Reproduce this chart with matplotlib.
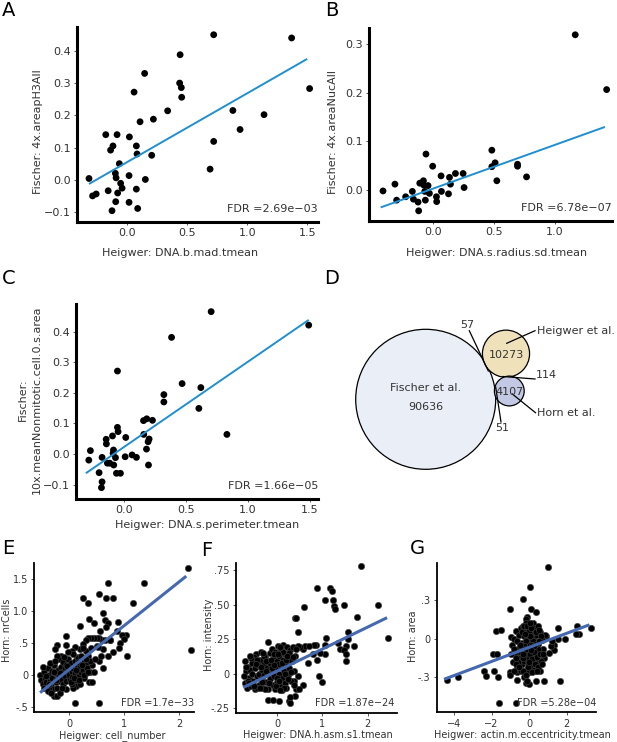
import numpy as np
import matplotlib
matplotlib.use("Agg")
import matplotlib.pyplot as plt
from matplotlib.patches import Circle

# ---------------------------------------------------------------------------
# Data
# ---------------------------------------------------------------------------

# A: Heigwer DNA.b.mad.tmean vs Fischer 4x.areapH3All
a_x = [-0.32, -0.29, -0.26, -0.18, -0.16, -0.14, -0.12, -0.086, -0.067, -0.10,
       -0.094, -0.056, -0.044, -0.081, -0.097, -0.128, 0.017, 0.056, 0.014, 0.014,
       0.075, 0.086, 0.075, 0.081, 0.106, 0.144, 0.15, 0.203, 0.217, 0.336,
       0.436, 0.45, 0.44, 0.453, 0.72, 0.72, 0.69, 0.88, 0.94, 1.14, 1.37, 1.52]
a_y = [0.004, -0.05, -0.044, 0.14, -0.034, 0.092, 0.105, 0.14, 0.05, 0.02,
       0.006, -0.011, -0.026, -0.041, -0.068, -0.096, 0.133, 0.272, 0.013, -0.07,
       -0.029, -0.089, 0.105, 0.08, 0.18, 0.33, 0.001, 0.076, 0.188, 0.214,
       0.30, 0.286, 0.388, 0.256, 0.45, 0.119, 0.033, 0.215, 0.156, 0.202, 0.44, 0.283]
a_fit_x = [-0.32, 1.50]
a_fit_y = [-0.013, 0.375]

# B: Heigwer DNA.s.radius.sd.tmean vs Fischer 4x.areaNucAll
b_x = [-0.411, -0.313, -0.299, -0.225, -0.17, -0.161, -0.123, -0.118, -0.109, -0.079,
       -0.076, -0.068, -0.063, -0.058, -0.041, -0.03, -0.003, 0.028, 0.03, 0.066,
       0.069, 0.127, 0.135, 0.143, 0.184, 0.247, 0.255, 0.483, 0.483, 0.51,
       0.524, 0.694, 0.694, 0.768, 1.168, 1.426]
b_y = [-0.002, 0.012, -0.021, -0.014, -0.003, -0.019, -0.025, -0.043, 0.014, 0.019,
       0.010, -0.003, -0.021, 0.074, 0.009, -0.007, 0.049, -0.014, -0.024, 0.029,
       -0.003, -0.008, 0.026, 0.012, 0.034, 0.034, 0.005, 0.082, 0.048, 0.056,
       0.019, 0.053, 0.049, 0.027, 0.320, 0.207]
b_fit_x = [-0.43, 1.412]
b_fit_y = [-0.036, 0.130]

# C: Heigwer DNA.s.perimeter.tmean vs Fischer 10x.meanNonmitotic.cell.0.s.area
c_x = [-0.051, 0.704, 0.385, 1.49, 0.47, 0.621, 0.323, 0.323, 0.605, 0.831,
       0.159, 0.185, 0.231, 0.161, 0.204, 0.196, 0.183, 0.199, -0.051, -0.046,
       -0.091, -0.142, -0.14, 0.016, -0.269, -0.282, -0.083, -0.086, -0.175, -0.067,
       -0.132, -0.113, -0.081, 0.011, 0.067, 0.102, -0.199, -0.059, -0.027, -0.175, -0.18]
c_y = [0.271, 0.465, 0.381, 0.421, 0.23, 0.217, 0.194, 0.17, 0.149, 0.064,
       0.109, 0.115, 0.110, 0.064, 0.049, 0.040, 0.016, -0.036, 0.087, 0.073,
       0.059, 0.048, 0.033, 0.054, 0.011, -0.020, 0.013, 0.002, -0.011, -0.012,
       -0.030, -0.030, -0.036, -0.009, -0.003, -0.011, -0.061, -0.063, -0.063, -0.091, -0.110]
c_fit_x = [-0.306, 1.49]
c_fit_y = [-0.063, 0.438]

# D: overlap of hit sets
venn_names = ["Fischer et al.", "Heigwer et al.", "Horn et al."]
venn_counts = [90636, 10273, 4107]
overlap_fh, overlap_hh, overlap_fho = 57, 114, 51

# E: Heigwer cell_number vs Horn nrCells
e_x = [2.16, 1.365, 0.70, 0.55, 0.67, 0.80, 0.25, 0.34, 1.165, 0.61, 0.37, 0.66, 0.46, 0.70,
       0.89, 0.20, 0.67, 2.21,
       0.56, 0.875, 1.03, 0.96, 1.0, 0.92, 0.90, 1.06, 0.80, 0.74, 0.65, 0.60, 0.55, 0.50,
       0.45, 0.40, 0.35, 0.30, 0.25, 0.20, 0.10, -0.06, -0.05, -0.22, -0.26, -0.14, 0.05,
       0.30, 0.40, 0.50, 0.62, 0.70, 0.55, 0.35, 0.15, 0.12, 0.42, 0.62, 0.38, 0.75, 0.52,
       -0.52, -0.50, -0.48, -0.45, -0.43, -0.42, -0.40, -0.38, -0.36, -0.35, -0.33, -0.31,
       -0.30, -0.29, -0.27, -0.25, -0.24, -0.22, -0.20, -0.19, -0.18, -0.17, -0.15, -0.14,
       -0.12, -0.11, -0.10, -0.08, -0.07, -0.06, -0.05, -0.03, -0.02, 0.00, 0.01, 0.02,
       0.04, 0.05, 0.06, 0.08, 0.10, 0.11, 0.12, 0.14, 0.15, 0.17, 0.18, 0.20, 0.22, 0.24,
       0.26, 0.28, 0.30, 0.33, 0.36, 0.38, 0.12, 0.30,
       -0.28, -0.22, -0.17, -0.36, -0.46, 0.08, -0.05, 0.05, 0.10, 0.55, 0.42, 0.20,
       -0.47, -0.41, -0.37, -0.34, -0.28, -0.23, -0.21, -0.16, -0.13, -0.09, -0.04, 0.03,
       0.07, 0.09, 0.13, 0.16, 0.19, 0.21, 0.23, 0.27, 0.31, 0.35, -0.39, -0.32, -0.26,
       -0.01, 0.25, 0.45, 0.48, 0.58]
e_y = [1.68, 1.43, 1.43, 1.26, 1.21, 1.21, 1.20, 1.12, 1.12, 0.96, 0.87, 0.86, 0.81, 0.81,
       0.83, 0.76, 0.75, 0.39,
       0.69, 0.68, 0.62, 0.62, 0.56, 0.50, 0.42, 0.30, 0.35, 0.55, 0.55, 0.55, 0.57, 0.57,
       0.57, 0.57, 0.57, 0.55, 0.48, 0.40, 0.43, 0.46, 0.60, 0.46, 0.40, 0.30, 0.38,
       0.38, 0.42, 0.45, 0.40, 0.30, 0.22, 0.30, 0.28, 0.20, 0.15, 0.10, 0.05, 0.55, 0.43,
       0.00, -0.08, -0.15, 0.05, -0.05, -0.12, -0.20, 0.10, 0.00, -0.10, -0.18, 0.06,
       -0.05, -0.22, 0.15, 0.02, -0.12, -0.20, 0.08, -0.02, 0.25, -0.10, 0.12, -0.06,
       0.04, -0.15, 0.20, 0.10, -0.02, 0.16, -0.10, 0.06, 0.24, 0.00, 0.12, -0.08,
       0.18, 0.05, -0.03, 0.10, 0.22, 0.02, -0.10, 0.14, 0.06, 0.26, -0.02, 0.12, 0.04, 0.20,
       0.08, -0.05, 0.16, 0.10, -0.12, 0.22, -0.18, 0.02,
       -0.33, -0.33, -0.28, -0.22, -0.20, -0.20, -0.22, -0.15, -0.45, -0.45, -0.12, -0.15,
       0.12, -0.02, -0.14, 0.18, 0.05, -0.08, 0.30, 0.02, -0.20, 0.28, 0.14, -0.12,
       0.32, -0.05, 0.08, 0.20, -0.08, 0.30, 0.15, 0.00, 0.25, 0.05, -0.26, -0.28, 0.22,
       0.35, 0.42, 0.05, 0.25, 0.30]
e_fit_x = [-0.525, 2.13]
e_fit_y = [-0.28, 1.545]

# F: Heigwer DNA.h.asm.s1.tmean vs Horn intensity
f_x = [1.85, 0.87, 1.17, 1.22, 1.05, 1.23, 1.25, 1.27, 1.48, 2.24, 0.60, 0.39, 0.41, 1.76,
       0.45, 2.46, 1.56, 1.56, 1.07, 1.05, 1.35, 1.40, 1.70, 1.53, 1.48, 1.53, 1.53, 1.05,
       0.85, 0.81, 0.87, 0.92, 1.00, 0.58, 0.62, 0.70, 0.50, 0.45, 0.58, 0.42, 0.48, 0.39,
       0.27, 0.28, 0.28, -0.20, -0.10, 0.04, -0.20, 0.80, 0.95, 0.68, 0.38, 0.46,
       -0.72, -0.70, -0.68, -0.66, -0.64, -0.62, -0.60, -0.58, -0.56, -0.55, -0.53, -0.50,
       -0.48, -0.47, -0.45, -0.43, -0.41, -0.40, -0.38, -0.36, -0.34, -0.32, -0.30, -0.28,
       -0.26, -0.25, -0.23, -0.21, -0.20, -0.18, -0.16, -0.15, -0.13, -0.12, -0.10, -0.09,
       -0.07, -0.06, -0.04, -0.03, -0.01, 0.00, 0.02, 0.03, 0.05, 0.06, 0.08, 0.09, 0.11,
       0.12, 0.14, 0.15, 0.17, 0.18, 0.20, 0.22, 0.23, 0.25, 0.27, 0.29, 0.31, 0.33, 0.35,
       0.37, 0.40, 0.42, -0.35, -0.52, -0.64, -0.44, -0.27, -0.05, 0.10, 0.20, -0.15, 0.05,
       -0.25, 0.18, -0.08, 0.28, -0.45, -0.33, 0.00, 0.13,
       -0.74, -0.69, -0.63, -0.57, -0.51, -0.46, -0.39, -0.35, -0.29, -0.24, -0.19, -0.14,
       -0.11, -0.06, -0.02, 0.01, 0.04, 0.07, 0.10, 0.16, 0.19, 0.24, 0.26, 0.30, 0.34,
       0.38, -0.60, -0.31, 0.07, 0.21]
f_y = [0.78, 0.62, 0.62, 0.60, 0.53, 0.53, 0.49, 0.47, 0.50, 0.50, 0.48, 0.40, 0.40, 0.41,
       0.30, 0.26, 0.30, 0.25, 0.26, 0.21, 0.22, 0.18, 0.20, 0.20, 0.17, 0.14, 0.09, 0.14,
       0.21, 0.21, 0.10, -0.02, -0.06, 0.18, 0.20, 0.20, 0.19, 0.20, -0.08, -0.11, -0.11, -0.16,
       -0.20, -0.17, -0.21, -0.19, -0.19, -0.20, 0.23, 0.14, 0.15, 0.08, -0.05, -0.02,
       0.09, -0.07, 0.02, -0.10, 0.05, -0.03, 0.03, -0.09, 0.00, 0.08, -0.05, 0.04,
       -0.11, 0.14, -0.02, 0.06, -0.08, 0.00, 0.10, -0.04, 0.03, -0.10, 0.07, -0.01,
       0.12, -0.06, 0.04, 0.09, -0.11, 0.00, 0.15, -0.04, 0.06, 0.18, -0.08, 0.02,
       0.11, -0.02, 0.16, 0.05, -0.06, 0.09, 0.20, 0.00, 0.13, -0.09, 0.05, 0.17, -0.03,
       0.10, 0.21, 0.02, -0.07, 0.14, 0.06, 0.19, -0.01, 0.11, 0.04, 0.17, -0.05, 0.09, 0.19,
       0.02, 0.13, 0.18, 0.16, 0.12, -0.05, -0.10, -0.11, -0.11, -0.12, -0.10, 0.08, 0.07,
       0.02, 0.00, 0.14, 0.10, 0.10, -0.06, -0.03, 0.16,
       -0.02, 0.05, -0.07, 0.11, -0.09, 0.07, -0.10, 0.05, 0.13, 0.09, -0.07, 0.10,
       0.04, 0.06, -0.09, 0.14, -0.05, 0.19, 0.08, -0.10, 0.10, -0.04, 0.15, 0.01, 0.12,
       -0.08, 0.13, 0.15, -0.12, 0.13]
f_fit_x = [-0.75, 2.43]
f_fit_y = [-0.10, 0.405]

# G: Heigwer actin.m.eccentricity.tmean vs Horn area
g_x = [1.01, 0.06, -0.33, 0.11, 0.38, -1.03, -0.10, -0.19, -1.74, -1.51, 1.52, 2.55, 2.67,
       2.49, 3.29, 1.91, 1.55, 1.35, 1.35, 1.15, 1.06, -0.98, -1.92, -1.72, -2.42, -2.30,
       -1.89, -1.68, -4.38, -3.77, -1.03, -1.03, -0.66, -0.66, -0.25, -0.15, 0.0, -0.10,
       0.38, 0.79, 1.63, -1.60, -0.71, 0.30, 0.50, -0.50, 0.80, 1.20, 0.90,
       -0.90, -0.85, -0.80, -0.75, -0.70, -0.65, -0.60, -0.55, -0.50, -0.45, -0.40, -0.38,
       -0.35, -0.30, -0.28, -0.25, -0.22, -0.20, -0.18, -0.15, -0.12, -0.10, -0.08, -0.05,
       -0.02, 0.0, 0.02, 0.05, 0.08, 0.10, 0.12, 0.15, 0.18, 0.20, 0.22, 0.25, 0.28, 0.30,
       0.33, 0.36, 0.40, 0.43, 0.46, 0.50, 0.55, 0.60, 0.65, 0.70, 0.75, 0.85, -0.60, -0.45,
       -0.35, -0.15, 0.0, 0.20, 0.35, -0.25, -0.05, 0.15, 0.45, -0.70, -0.55, -0.10, 0.10,
       0.30, -0.30, 0.05, -0.20, 0.60,
       -0.95, -0.82, -0.72, -0.62, -0.52, -0.42, -0.33, -0.27, -0.17, -0.07, 0.03, 0.07,
       0.13, 0.17, 0.27, 0.32, 0.38, 0.42, 0.48, 0.52, 0.58, 0.63, 0.68, 0.72, -0.40, -0.20,
       0.00, 0.25, -0.50, 0.10, -0.80, 0.55, -0.15, 0.40, -0.35, 0.05]
g_y = [0.555, 0.405, 0.31, 0.23, 0.21, 0.23, 0.17, 0.15, 0.06, 0.07, 0.08, 0.10, 0.04,
       0.04, 0.085, -0.005, 0.0, -0.05, -0.09, -0.06, -0.11, 0.01, -0.12, -0.12, -0.25, -0.29,
       -0.25, -0.30, -0.32, -0.30, -0.26, -0.28, -0.26, -0.32, -0.30, -0.34, -0.35, -0.33,
       -0.33, -0.33, -0.33, -0.50, -0.50, -0.25, -0.22, -0.22, -0.15, -0.02, 0.02,
       -0.05, -0.18, 0.0, -0.12, 0.06, -0.22, -0.08, 0.03, -0.15, 0.08, -0.03, -0.20,
       0.10, -0.10, 0.02, -0.17, 0.07, -0.05, -0.24, 0.12, -0.12, 0.0, -0.19, 0.08,
       -0.07, -0.26, 0.04, -0.14, 0.10, -0.02, -0.21, 0.06, -0.09, 0.12, -0.16, 0.01, -0.24, 0.08,
       -0.06, -0.13, 0.03, -0.19, 0.10, -0.04, -0.11, 0.05, -0.17, -0.01, -0.08, 0.03, -0.18, -0.25,
       -0.05, -0.02, 0.06, -0.02, 0.05, 0.10, -0.15, -0.26, -0.08, -0.20, -0.10, 0.10, 0.08,
       -0.15, -0.25, -0.05, -0.12, -0.25,
       -0.12, -0.25, -0.15, -0.02, -0.22, -0.10, -0.15, -0.06, -0.08, -0.22, -0.12, 0.02,
       -0.16, -0.05, -0.10, -0.20, -0.04, -0.14, -0.22, 0.07, -0.12, 0.02, -0.20, -0.12, 0.05,
       0.04, -0.18, -0.06, -0.05, -0.09, -0.08, -0.02, -0.28, -0.25, -0.12, 0.12]
g_fit_x = [-4.54, 3.22]
g_fit_y = [-0.315, 0.108]

# ---------------------------------------------------------------------------
# Figure
# ---------------------------------------------------------------------------

W, H = 617, 742
fig = plt.figure(figsize=(W / 100, H / 100), dpi=100)
plt.rcParams["font.family"] = ["DejaVu Sans"]
TXT = "#333333"

def px_axes(left, top, right, bottom):
    return fig.add_axes([left / W, 1 - bottom / H, (right - left) / W, (bottom - top) / H])

def style(ax, spine_w, tick_fs):
    for s in ("top", "right"):
        ax.spines[s].set_visible(False)
    for s in ("left", "bottom"):
        ax.spines[s].set_linewidth(spine_w)
        ax.spines[s].set_color("black")
    ax.tick_params(length=2.5, width=0.7, color="#555555", labelsize=tick_fs,
                   labelcolor=TXT, pad=2)

def scatter_panel(ax, x, y, fx, fy, xlim, ylim, fdr, xlabel, ylabel,
                  xl_pos, yl_pos, line_col, line_w, dot_s, edge, fs, fdr_x=1.0):
    ax.scatter(x, y, s=dot_s, c="black", edgecolors=edge, linewidths=0.4, zorder=3)
    ax.plot(fx, fy, color=line_col, lw=line_w, zorder=4, solid_capstyle="butt")
    ax.set_xlim(*xlim); ax.set_ylim(*ylim)
    ax.set_xlabel(xlabel, fontsize=fs, color=TXT)
    ax.set_ylabel(ylabel, fontsize=fs, color=TXT, linespacing=1.5)
    ax.xaxis.set_label_coords(*xl_pos)
    ax.yaxis.set_label_coords(*yl_pos)
    ax.text(fdr_x, 0.065, fdr, transform=ax.transAxes, ha="right", va="center",
            fontsize=fs, color=TXT, zorder=5)

ABC_LINE = "#1f8fcf"
EFG_LINE = "#4569b0"

# --- A ---
ax = px_axes(77, 27, 318, 222)
style(ax, 2.2, 8)
scatter_panel(ax, a_x, a_y, a_fit_x, a_fit_y, (-0.42, 1.59), (-0.131, 0.474),
              "FDR =2.69e\u221203", "Heigwer: DNA.b.mad.tmean", "Fischer: 4x.areapH3All",
              (0.427, -0.133), (-0.141, 0.464), ABC_LINE, 1.4, 24, "none", 8)
ax.set_xticks([0.0, 0.5, 1.0, 1.5]); ax.set_yticks([-0.1, 0.0, 0.1, 0.2, 0.3, 0.4])
ax.xaxis.set_major_formatter("{x:.1f}"); ax.yaxis.set_major_formatter("{x:.1f}")

# --- B ---
ax = px_axes(369, 28, 612, 221)
style(ax, 2.2, 8)
scatter_panel(ax, b_x, b_y, b_fit_x, b_fit_y, (-0.526, 1.47), (-0.064, 0.334),
              "FDR =6.78e\u221207", "Heigwer: DNA.s.radius.sd.tmean", "Fischer: 4x.areaNucAll",
              (0.525, -0.14), (-0.126, 0.459), ABC_LINE, 1.4, 24, "none", 8)
ax.set_xticks([0.0, 0.5, 1.0]); ax.set_yticks([0.0, 0.1, 0.2, 0.3])
ax.xaxis.set_major_formatter("{x:.1f}"); ax.yaxis.set_major_formatter("{x:.1f}")

# --- C ---
ax = px_axes(76, 304, 318, 499)
style(ax, 2.2, 8)
scatter_panel(ax, c_x, c_y, c_fit_x, c_fit_y, (-0.385, 1.565), (-0.147, 0.49),
              "FDR =1.66e\u221205", "Heigwer: DNA.s.perimeter.tmean",
              "Fischer:\n10x.meanNonmitotic.cell.0.s.area",
              (0.541, -0.108), (-0.14, 0.51), ABC_LINE, 1.4, 24, "none", 8)
ax.set_xticks([0.0, 0.5, 1.0, 1.5]); ax.set_yticks([-0.1, 0.0, 0.1, 0.2, 0.3, 0.4])
ax.xaxis.set_major_formatter("{x:.1f}"); ax.yaxis.set_major_formatter("{x:.1f}")

# --- D (Venn, radii from counts) ---
axd = px_axes(330, 280, 617, 480)
axd.set_xlim(330, 617); axd.set_ylim(480, 280); axd.axis("off")
r0 = 70
radii = [r0 * np.sqrt(n / venn_counts[0]) for n in venn_counts]
centers = [(425.7, 399.3), (506.0, 353.7), (509.3, 391.0)]
fills = ["#eaeef7", "#efe2bb", "#c3c8e4"]
for (cx, cy), r, fc in zip(centers, radii, fills):
    axd.add_patch(Circle((cx, cy), r, facecolor=fc, edgecolor="black", lw=0.9))
vf = 8
axd.text(425.7, 388, venn_names[0], ha="center", va="center", fontsize=vf, color=TXT)
axd.text(425.7, 407.5, str(venn_counts[0]), ha="center", va="center", fontsize=vf, color=TXT)
axd.text(506, 355, str(venn_counts[1]), ha="center", va="center", fontsize=vf, color=TXT)
axd.text(509.5, 392, str(venn_counts[2]), ha="center", va="center", fontsize=vf, color=TXT)
lk = dict(color="black", lw=0.9)
axd.plot([506.7, 535], [343.3, 330.7], **lk)
axd.text(537, 331, venn_names[1], ha="left", va="center", fontsize=vf, color=TXT)
axd.plot([503, 535], [376.5, 379], **lk)
axd.text(536, 375, str(overlap_hh), ha="left", va="center", fontsize=vf, color=TXT)
axd.plot([512.3, 535.5], [394, 412.7], **lk)
axd.text(537, 413, venn_names[2], ha="left", va="center", fontsize=vf, color=TXT)
axd.plot([469.3, 488.3], [330.7, 371], **lk)
axd.text(467, 325.5, str(overlap_fh), ha="center", va="center", fontsize=vf, color=TXT)
axd.plot([495.7, 501], [387.3, 422], **lk)
axd.text(502.5, 428, str(overlap_fho), ha="center", va="center", fontsize=vf, color=TXT)

# --- E ---
ax = px_axes(34.3, 563.3, 194, 712.3)
style(ax, 1.3, 7)
scatter_panel(ax, e_x, e_y, e_fit_x, e_fit_y, (-0.63, 2.27), (-0.588, 1.746),
              "FDR =1.7e\u221233", "Heigwer: cell_number", "Horn: nrCells",
              (0.485, -0.122), (-0.14, 0.552), EFG_LINE, 2.2, 21, "#444444", 7)
ax.set_xticks([0, 1, 2]); ax.set_xticklabels(["0", "1", "2"])
ax.set_yticks([-0.5, 0, 0.5, 1.0, 1.5]); ax.set_yticklabels(["-.5", "0", ".5", "1.0", "1.5"])

# --- F ---
ax = px_axes(236, 563.3, 397, 712.7)
style(ax, 1.3, 7)
scatter_panel(ax, f_x, f_y, f_fit_x, f_fit_y, (-0.91, 2.65), (-0.282, 0.798),
              "FDR =1.87e\u221224", "Heigwer: DNA.h.asm.s1.tmean", "Horn: intensity",
              (0.506, -0.119), (-0.135, 0.52), EFG_LINE, 2.2, 21, "#444444", 7, fdr_x=0.982)
ax.set_xticks([0, 1, 2]); ax.set_xticklabels(["0", "1", "2"])
ax.set_yticks([-0.25, 0, 0.25, 0.5, 0.75]); ax.set_yticklabels(["-.25", "0", ".25", ".50", ".75"])

# --- G ---
ax = px_axes(436.7, 563.3, 596, 712.3)
style(ax, 1.3, 7)
scatter_panel(ax, g_x, g_y, g_fit_x, g_fit_y, (-4.93, 3.57), (-0.571, 0.585),
              "FDR =5.28e\u221204", "Heigwer: actin.m.eccentricity.tmean", "Horn: area",
              (0.54, -0.122), (-0.115, 0.51), EFG_LINE, 2.2, 21, "#444444", 7)
ax.set_xticks([-4, -2, 0, 2]); ax.set_xticklabels(["\u22124", "\u22122", "0", "2"])
ax.set_yticks([-0.3, 0, 0.3]); ax.set_yticklabels(["-.3", "0", ".3"])

# panel letters
for lab, (x, y) in {"A": (9, 11), "B": (332, 10), "C": (9, 278), "D": (332, 278),
                    "E": (8, 548), "F": (207, 550), "G": (417, 548)}.items():
    fig.text(x / W, 1 - y / H, lab, ha="center", va="center", fontsize=14, color="black")

fig.savefig("out.png", dpi=100)
